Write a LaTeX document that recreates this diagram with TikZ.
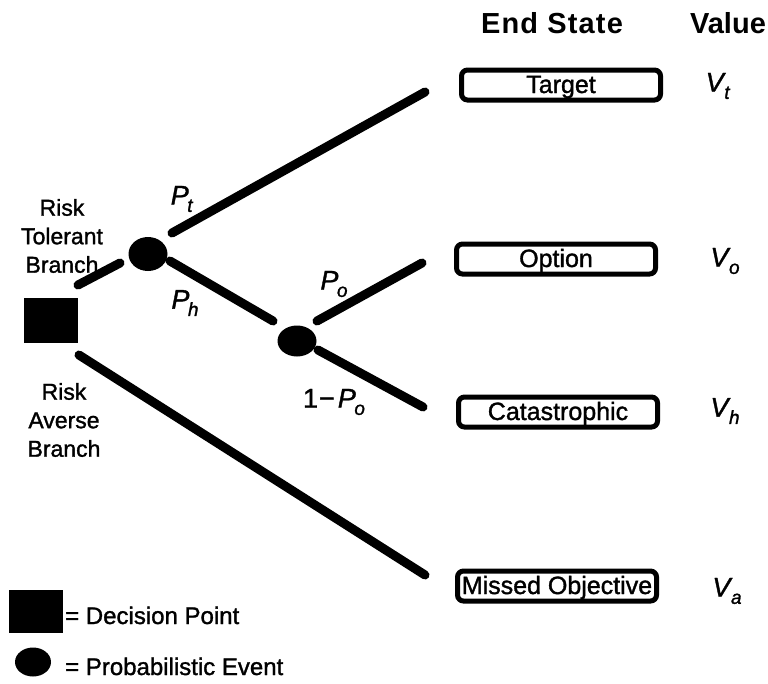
\documentclass[tikz,border=0pt]{standalone}
\usepackage{fontspec}
\setmainfont{Liberation Sans}
% slightly emboldened face for the labels
\newfontfamily\heavy{Liberation Sans}[FakeBold=1.3]
\usetikzlibrary{shapes.geometric}
\newcommand\sz[1]{\fontsize{#1}{#1}\selectfont}
% italic variable with a lowered italic index
\newcommand\vsub[2]{\textit{#1}\kern-1.5pt\raisebox{-0.27em}{\fontsize{19}{19}\selectfont\textit{#2}}}
\begin{document}
\begin{tikzpicture}[x=1pt,y=-1pt,
  branch/.style={line width=9pt, line cap=round},
  endbox/.style={draw, line width=5pt, rounded corners=6pt, minimum width=199pt,
    minimum height=30pt, inner sep=0pt, text height=20pt, text depth=4pt, font=\heavy\sz{25}},
  chance/.style={ellipse, fill=black, inner sep=0pt},
  decision/.style={rectangle, fill=black, inner sep=0pt},
  lbl/.style={font=\heavy\fontsize{23}{28.5}\selectfont, align=center},
  prob/.style={font=\heavy\sz{27}},
  legtext/.style={font=\heavy\sz{24}, anchor=base west, inner sep=0pt},
  head/.style={font=\bfseries\sz{29}}]

\useasboundingbox (0,0) rectangle (768,683);

% column headers
\node[head] (hstate) at (552,23) {\addfontfeature{LetterSpace=4}End State};
\node[head] (hvalue) at (728,23) {Value};

% decision and chance nodes
\node[decision, minimum width=54pt, minimum height=45pt] (dec) at (51,320.5) {};
\node[chance, minimum width=39pt, minimum height=34pt] (ev1) at (148,254) {};
\node[chance, minimum width=39pt, minimum height=31pt] (ev2) at (297,341) {};

% end states
\node[endbox] (target) at (561,85)  {Target};
\node[endbox] (option) at (556,259) {Option};
\node[endbox] (cat)    at (558,412) {Catastrophic};
\node[endbox] (missed) at (557,586) {Missed Objective};

% values
\node[prob] (vt) at (718,86)  {\vsub{V}{t}};
\node[prob] (vo) at (725,261) {\vsub{V}{o}};
\node[prob] (vh) at (725,411) {\vsub{V}{h}};
\node[prob] (va) at (727,591) {\vsub{V}{a}};

% branch end points
\coordinate (dec-up)    at (78,285);
\coordinate (ev1-in)    at (120,263);
\coordinate (ev1-up)    at (172,233);
\coordinate (target-in) at (425,92);
\coordinate (ev1-dn)    at (170,261);
\coordinate (ev2-in)    at (273,321);
\coordinate (ev2-up)    at (317,321);
\coordinate (option-in) at (422,263);
\coordinate (ev2-dn)    at (318,350);
\coordinate (cat-in)    at (423,407);
\coordinate (dec-dn)    at (79,355);
\coordinate (missed-in) at (425,575);

% branches
\draw[branch] (dec-up) -- (ev1-in);
\draw[branch] (ev1-up) -- (target-in);
\draw[branch] (ev1-dn) -- (ev2-in);
\draw[branch] (ev2-up) -- (option-in);
\draw[branch] (ev2-dn) -- (cat-in);
\draw[branch] (dec-dn) -- (missed-in);

% probabilities
\node[prob] (pt) at (182,199) {\vsub{P}{t}};
\node[prob] (ph) at (185,303) {\vsub{P}{h}};
\node[prob] (po) at (334,284) {\vsub{P}{o}};
\node[prob] (pno) at (334,402) {1\kern1pt\textminus\kern3pt\vsub{P}{o}};

% branch names
\node[lbl] (tol) at (62,236) {Risk\\Tolerant\\Branch};
\node[lbl] (avr) at (64,420) {Risk\\Averse\\Branch};

% legend
\node[decision, minimum width=54pt, minimum height=43pt] (legdec) at (36,611.5) {};
\node[chance, minimum width=36pt, minimum height=29pt] (legev) at (33,662) {};
\node[legtext] (legdectext) at (65,624) {= Decision Point};
\node[legtext] (legevtext) at (65,675) {= Probabilistic Event};
\end{tikzpicture}
\end{document}
